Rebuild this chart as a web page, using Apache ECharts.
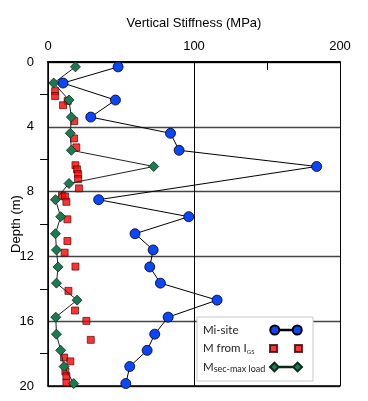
<!DOCTYPE html>
<html lang="en">
<head>
    <meta charset="UTF-8">
    <title>vertical-stiffness</title>
    <script src="https://cdn.jsdelivr.net/npm/echarts@6/dist/echarts.min.js"></script>
</head>
<body style="margin:0">
<div id="main" style="width: 368px;height:401px;"></div>
<script>
    // depth (m) and stiffness (MPa)
    var miDepth = [0.3, 1.3, 2.35, 3.4, 4.4, 5.45, 6.45, 8.5, 9.55, 10.6, 11.6, 12.65, 13.65, 14.7, 15.75, 16.8, 17.8, 18.8, 19.85];
    var miValue = [48, 10.3, 46.2, 29.3, 83.9, 89.8, 184, 34.7, 96.4, 59.6, 72, 69.7, 77, 115.8, 82.3, 73.1, 67.9, 56, 53.3];

    var igsDepth = [1.8, 2.1, 2.4, 2.67, 3.65, 4.72, 5.27, 6.37, 6.63, 6.92, 7.23, 7.8, 8.25, 8.3, 8.63, 9.71, 11.05, 11.77, 12.63, 14.13, 15.34, 15.98, 17.15, 18.24, 18.48, 19.1, 19.4, 19.8];
    var igsValue = [4.9, 4.9, 13.5, 10.3, 18, 17.8, 19.4, 18.8, 19.9, 20.6, 20.6, 21.2, 9.6, 11.6, 12.6, 13.3, 13.3, 11.4, 18.8, 14, 18.5, 26.3, 29.3, 11, 15.3, 11.9, 12.6, 12.6];

    var secDepth = [0.3, 1.3, 2.35, 3.4, 4.4, 5.45, 6.45, 7.5, 8.5, 9.55, 10.6, 11.6, 12.65, 13.65, 14.7, 15.75, 16.8, 17.8, 18.8, 19.85];
    var secValue = [18.8, 3.9, 14.4, 16, 15.3, 16, 72.4, 14.4, 5.1, 8.7, 5.1, 5.8, 6.9, 5.8, 19.9, 5.3, 5.8, 8.7, 11, 17.6];

    var xTicks = [0, 100, 200];

    function pairs(xs, ys) {
        return xs.map(function (v, i) { return [v, ys[i]]; });
    }

    var font = 'Liberation Sans';
    var chart = echarts.init(document.getElementById("main"));
    var option = {
        backgroundColor: '#fff',
        animation: false,
        grid: {left: 48, right: 28, top: 62, bottom: 15, containLabel: false, outerBoundsMode: 'none'},
        legend: {
            orient: 'vertical',
            left: 197,
            top: 317,
            align: 'right',
            itemWidth: 32,
            itemHeight: 9,
            itemGap: 4.5,
            padding: [6, 10, 7, 6],
            backgroundColor: '#fff',
            borderColor: '#c8c8c8',
            borderWidth: 1,
            selectedMode: false,
            data: [
                {name: 'Mi-site', icon: 'path://M1,5a4,4 0 1,0 8,0a4,4 0 1,0 -8,0Z M21,5a4,4 0 1,0 8,0a4,4 0 1,0 -8,0Z M9,4.8L21,4.8L21,5.2L9,5.2Z'},
                {name: 'igs', icon: 'path://M1.5,2H7.5V8H1.5Z M22.5,2H28.5V8H22.5Z'},
                {name: 'sec', icon: 'path://M0.5,5L4.5,1L8.5,5L4.5,9Z M21.5,5L25.5,1L29.5,5L25.5,9Z M8.5,4.7H21.5V5.3H8.5Z'}
            ],
            formatter: function (name) {
                if (name === 'igs') return '{t|M from I}{sub|GS}';
                if (name === 'sec') return '{t|M}{sub2|sec-max load}';
                return '{t|' + name + '}';
            },
            textStyle: {
                fontFamily: 'Lato',
                fontSize: 11,
                color: '#222',
                width: 62,
                lineHeight: 14,
                rich: {
                    t: {fontFamily: 'Lato', fontSize: 11.5, color: '#222', align: 'left', lineHeight: 14},
                    sub: {fontFamily: 'Lato', fontSize: 6, color: '#222', align: 'left', verticalAlign: 'bottom', lineHeight: 10},
                    sub2: {fontFamily: 'Lato', fontSize: 9, color: '#222', align: 'left', verticalAlign: 'bottom', lineHeight: 10}
                }
            }
        },
        xAxis: [{
            type: 'value',
            position: 'top',
            min: 0,
            max: 200,
            interval: 50,
            name: 'Vertical Stiffness (MPa)',
            nameLocation: 'middle',
            nameGap: 32,
            nameMoveOverlap: false,
            nameTextStyle: {fontFamily: font, fontSize: 13, color: '#000'},
            axisLine: {show: true, lineStyle: {color: '#000', width: 2}},
            axisTick: {show: true, inside: true, length: 8, lineStyle: {color: '#000'}},
            axisLabel: {
                fontFamily: font, fontSize: 13, color: '#000', margin: 9,
                formatter: function (v) { return xTicks.indexOf(v) >= 0 ? v : ''; }
            },
            splitLine: {show: false}
        }, {
            type: 'value',
            position: 'bottom',
            min: 0,
            max: 200,
            interval: 100,
            axisLine: {show: true, onZero: false, lineStyle: {color: '#000', width: 1.5}},
            axisTick: {show: false},
            axisLabel: {show: false},
            splitLine: {show: true, lineStyle: {color: '#000', width: 1}}
        }],
        yAxis: {
            type: 'value',
            inverse: true,
            min: 0,
            max: 20,
            interval: 4,
            name: 'Depth (m)',
            nameLocation: 'middle',
            nameGap: 25,
            nameMoveOverlap: false,
            nameTextStyle: {fontFamily: font, fontSize: 13, color: '#000'},
            axisLine: {show: true, lineStyle: {color: '#000', width: 1.5}},
            axisTick: {show: false},
            minorTick: {show: true, splitNumber: 2, length: 8, lineStyle: {color: '#000'}},
            axisLabel: {fontFamily: font, fontSize: 13, color: '#000', margin: 14},
            splitLine: {show: true, lineStyle: {color: '#444', width: 1.3}}
        },
        series: [{
            name: 'igs',
            type: 'scatter',
            symbol: 'rect',
            symbolSize: 7,
            z: 2,
            itemStyle: {color: '#ff0000', borderColor: '#3a0000', borderWidth: 0.8},
            data: pairs(igsValue, igsDepth)
        }, {
            name: 'sec',
            type: 'line',
            symbol: 'diamond',
            symbolSize: 10,
            showAllSymbol: true,
            z: 3,
            itemStyle: {color: '#1b7a52', borderColor: '#0a2a1a', borderWidth: 0.8},
            lineStyle: {color: '#222', width: 1},
            data: pairs(secValue, secDepth)
        }, {
            name: 'Mi-site',
            type: 'line',
            symbol: 'circle',
            symbolSize: 10,
            showAllSymbol: true,
            z: 4,
            itemStyle: {color: '#0a46ff', borderColor: '#000', borderWidth: 0.8},
            lineStyle: {color: '#000', width: 1},
            data: pairs(miValue, miDepth)
        }]
    };
    chart.setOption(option);
</script>
</body>
</html>
